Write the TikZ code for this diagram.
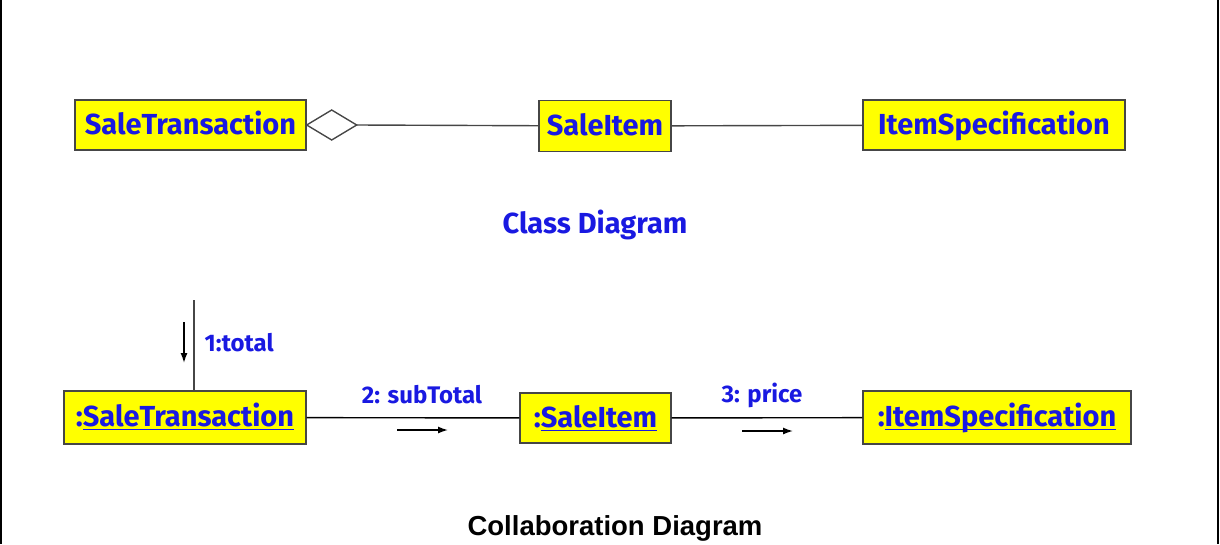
\documentclass[tikz,border=0pt]{standalone}
\usepackage{fontspec}
\usepackage{xcolor}
\usepackage{amsmath}
\usepackage{tikz}
\usetikzlibrary{arrows.meta}
\setmainfont{Liberation Sans}
\newfontfamily\comicfont{Fira Sans}
\definecolor{umlblue}{RGB}{25,25,225}
\definecolor{umlyellow}{RGB}{255,255,0}
\definecolor{umlline}{RGB}{70,70,70}
\newcommand{\objname}[1]{\underline{\smash[b]{#1}}}

\begin{document}
\begin{tikzpicture}[x=1pt,y=-1pt,>={Latex[length=10pt,width=7pt]},line width=1.4pt,
  class node/.style={draw=umlline,fill=umlyellow,inner sep=0pt,minimum height=50pt,text height=22pt,text depth=4pt,text=umlblue,font=\comicfont\bfseries\fontsize{29}{32}\selectfont},
  msg label/.style={text=umlblue,inner sep=0pt,font=\comicfont\bfseries\fontsize{24}{27}\selectfont},
  title node/.style={text=umlblue,inner sep=0pt,font=\comicfont\bfseries\fontsize{29}{32}\selectfont}]
    \useasboundingbox (0,0) rectangle (1220,544);
    \draw[line width=2pt] (1,0) -- (1,544);
    \draw[line width=2pt] (1218,0) -- (1218,544);

    % class diagram
    \node[class node,minimum width=231pt] (st) at (190.5,125) {SaleTransaction};
    \node[class node,minimum width=132pt,minimum height=51pt] (si) at (605,126) {SaleItem};
    \node[class node,minimum width=262pt] (is) at (994,125) {ItemSpecification};
    \draw[umlline,fill=white] (st.east) -- ++(25,-15) -- ++(25,15) coordinate (dtip) -- ++(-25,15) -- cycle;
    \draw[umlline] (dtip) -- (si);
    \draw[umlline] (si) -- (is);
    \node[title node] (cd) at (595,225) {Class Diagram};

    % collaboration diagram
    \node[class node,minimum width=242pt,minimum height=53pt] (cst) at (185,417.5) {:\objname{SaleTransaction}};
    \node[class node,minimum width=151pt] (csi) at (595.5,418) {:\objname{SaleItem}};
    \node[class node,minimum width=268pt,minimum height=53pt] (cis) at (997,417.5) {:\objname{ItemSpecification}};
    \coordinate (entry) at (194,300);
    \draw[umlline] (entry) -- (entry |- cst.north);
    \draw (cst) -- (csi);
    \draw (csi) -- (cis);

    \coordinate (m1s) at (184,322);
    \coordinate (m1e) at (184,363);
    \draw[->] (m1s) -- (m1e);
    \node[msg label,anchor=west] (m1) at (204,343) {1:total};

    \coordinate (m2s) at (397,430);
    \coordinate (m2e) at (448,430);
    \draw[->] (m2s) -- (m2e);
    \node[msg label] (m2) at (422,395) {2: subTotal};

    \coordinate (m3s) at (742,431);
    \coordinate (m3e) at (793,431);
    \draw[->] (m3s) -- (m3e);
    \node[msg label] (m3) at (762,395) {3: price};

    \node[inner sep=0pt,font=\bfseries\fontsize{27.5}{30}\selectfont] (cod) at (615,528) {Collaboration Diagram};
\end{tikzpicture}
\end{document}
